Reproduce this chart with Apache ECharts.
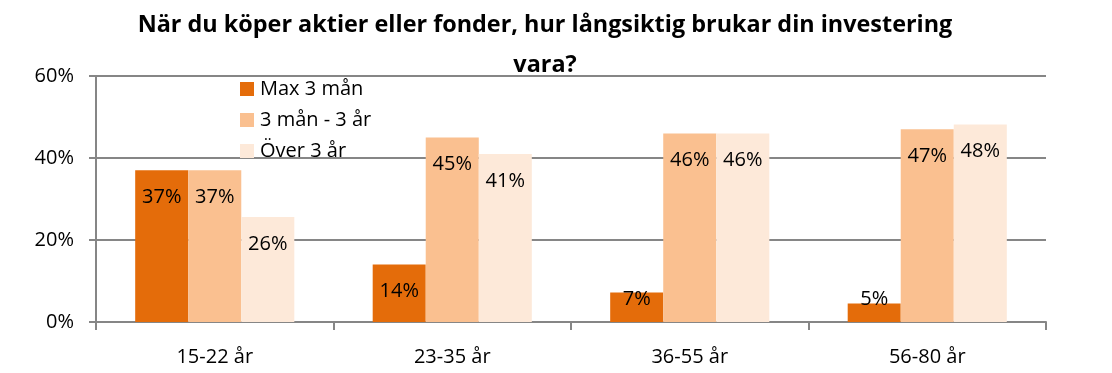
<!DOCTYPE html>
<html><head><meta charset="utf-8">
<script src="https://cdn.jsdelivr.net/npm/echarts@6/dist/echarts.min.js"></script>
<style>html,body{margin:0;padding:0;background:#fff}#c{width:1112px;height:373px}</style>
</head><body><div id="c"></div>
<script>
const titleText = 'När du köper aktier eller fonder, hur långsiktig brukar din investering\nvara?';
const categories = ['15-22 år', '23-35 år', '36-55 år', '56-80 år'];
const seriesNames = ['Max 3 mån', '3 mån - 3 år', 'Över 3 år'];
const maxThreeMonths = [37, 14, 7.2, 4.5];
const threeMonthsToThreeYears = [37, 45, 46, 47];
const overThreeYears = [25.6, 41, 46, 48.2];
const yTicks = [0, 20, 40, 60];

const colors = ['#E46C0A', '#FAC090', '#FDE9D9'];
const FONT = 'Open Sans';
const chart = echarts.init(document.getElementById('c'), null, {renderer: 'canvas'});
function mk(name, vals, color) {
  return {
    name, type: 'bar', barGap: '0%', barCategoryGap: '33%',
    itemStyle: {color},
    data: vals.map(v => v < 10 ? {value: v, label: {position: 'insideBottom', distance: 13}} : v),
    label: {show: true, position: 'insideTop', distance: 17, color: '#000', fontFamily: FONT, fontSize: 20,
      formatter: p => Math.round(p.value) + '%'}
  };
}
chart.setOption({
  animation: false,
  title: {text: titleText, left: 540, top: 0, textAlign: 'center',
    textStyle: {fontFamily: FONT, fontWeight: 'bold', fontSize: 23.4, color: '#000', lineHeight: 40}},
  legend: {orient: 'vertical', left: 240, top: 79, padding: 0, itemWidth: 14, itemHeight: 14, itemGap: 11,
    selectedMode: false, data: seriesNames, icon: 'rect',
    textStyle: {fontFamily: FONT, fontSize: 20, color: '#000', padding: [0,0,0,1]}},
  grid: {left: 96, right: 66, top: 76, bottom: 51},
  xAxis: {type: 'category', data: categories,
    axisLine: {lineStyle: {color: '#868686', width: 2}},
    axisTick: {show: true, length: 8, lineStyle: {color: '#868686', width: 2}},
    axisLabel: {fontFamily: FONT, fontSize: 20, color: '#000', margin: 25}},
  yAxis: {type: 'value', min: yTicks[0], max: yTicks[yTicks.length-1], interval: 20,
    axisLine: {show: true, lineStyle: {color: '#868686', width: 2}},
    axisTick: {show: true, length: 7, lineStyle: {color: '#868686', width: 2}},
    splitLine: {lineStyle: {color: '#868686', width: 2}},
    axisLabel: {fontFamily: FONT, fontSize: 20, color: '#000', margin: 22, formatter: v => v + '%'}},
  series: [
    mk(seriesNames[0], maxThreeMonths, colors[0]),
    mk(seriesNames[1], threeMonthsToThreeYears, colors[1]),
    mk(seriesNames[2], overThreeYears, colors[2])
  ]
});
</script></body></html>
